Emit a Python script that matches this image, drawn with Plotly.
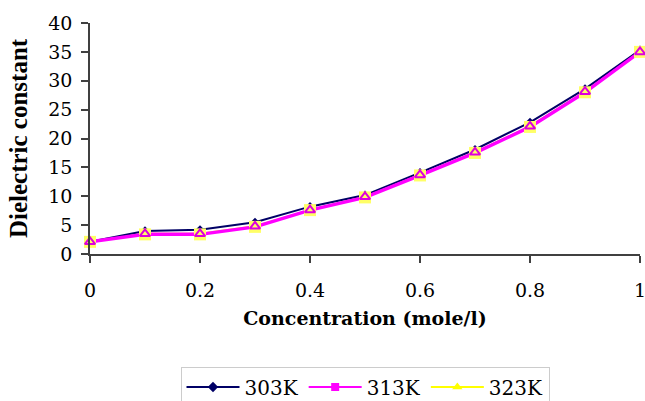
import plotly.graph_objects as go

conc = [0, 0.1, 0.2, 0.3, 0.4, 0.5, 0.6, 0.7, 0.8, 0.9, 1.0]
k303 = [2.1, 4.0, 4.2, 5.5, 8.2, 10.2, 14.1, 18.1, 22.8, 28.6, 35.3]
k313 = [2.1, 3.4, 3.4, 4.7, 7.6, 9.8, 13.6, 17.5, 22.0, 28.0, 35.0]
k323 = [2.1, 3.5, 3.5, 4.8, 7.6, 9.9, 13.7, 17.6, 22.1, 28.1, 35.0]
names = ["303K", "313K", "323K"]

wide = "DejaVu Serif"
times = "Liberation Serif"
fig = go.Figure()

fig.add_trace(go.Scatter(x=conc, y=k323, mode="lines", line=dict(color="#FFFF00", width=2),
                         showlegend=False, cliponaxis=False))
fig.add_trace(go.Scatter(x=conc, y=k303, mode="lines+markers", line=dict(color="#000066", width=2),
                         marker=dict(symbol="diamond", size=7, color="#000066"),
                         showlegend=False, cliponaxis=False))
fig.add_trace(go.Scatter(x=conc, y=k313, mode="lines", line=dict(color="#FF00FF", width=3.5),
                         showlegend=False, cliponaxis=False))
fig.add_trace(go.Scatter(x=conc, y=k313, mode="markers",
                         marker=dict(symbol="square", size=12, color="#FFFF66", line=dict(width=0)),
                         showlegend=False, cliponaxis=False))
fig.add_trace(go.Scatter(x=conc, y=k323, mode="markers",
                         marker=dict(symbol="triangle-up-open", size=9, color="#DD00DD", line=dict(width=2)),
                         showlegend=False, cliponaxis=False))

fig.add_trace(go.Scatter(x=[None], y=[None], mode="lines+markers", name=names[0],
                         line=dict(color="#000066", width=2),
                         marker=dict(symbol="diamond", size=8, color="#000066")))
fig.add_trace(go.Scatter(x=[None], y=[None], mode="lines+markers", name=names[1],
                         line=dict(color="#FF00FF", width=2),
                         marker=dict(symbol="square", size=8, color="#FF00FF")))
fig.add_trace(go.Scatter(x=[None], y=[None], mode="lines+markers", name=names[2],
                         line=dict(color="#FFFF00", width=2),
                         marker=dict(symbol="triangle-up", size=9, color="#FFFF00")))

fig.update_layout(
    width=645, height=401,
    margin=dict(l=90, r=5, t=23, b=147),
    paper_bgcolor="white", plot_bgcolor="white",
    font=dict(family=wide, size=19, color="black"),
    showlegend=True,
    legend=dict(orientation="h", x=0.5, xanchor="center", yref="container", y=0.086, yanchor="top",
                bordercolor="#CCCCCC", borderwidth=1, font=dict(size=20, family=wide),
                itemwidth=53, tracegroupgap=0),
    xaxis=dict(range=[0, 1], tickvals=[0, 0.2, 0.4, 0.6, 0.8, 1.0],
               ticktext=["0", "0.2", "0.4", "0.6", "0.8", "1"], ticklabeloverflow="allow",
               showgrid=False, zeroline=False, showline=True, linecolor="#404040", linewidth=1.5,
               ticks="outside", ticklen=7, tickcolor="#404040", tickwidth=1.5, automargin=False,
               ticklabelstandoff=11, tickfont=dict(family=wide, size=19),
               title=dict(text="<b>Concentration (mole/l)</b>", font=dict(size=19, family=wide), standoff=12)),
    yaxis=dict(range=[0, 40], dtick=5, showgrid=False, zeroline=False, showline=True,
               linecolor="#404040", linewidth=1.5, ticks="outside", ticklen=7, tickcolor="#404040",
               tickwidth=1.5, automargin=False, ticklabelstandoff=5, tickfont=dict(family=wide, size=19),
               title=dict(text="<b>Dielectric constant</b>", font=dict(size=25, family=times), standoff=14)),
)

fig.write_html("out.html")
